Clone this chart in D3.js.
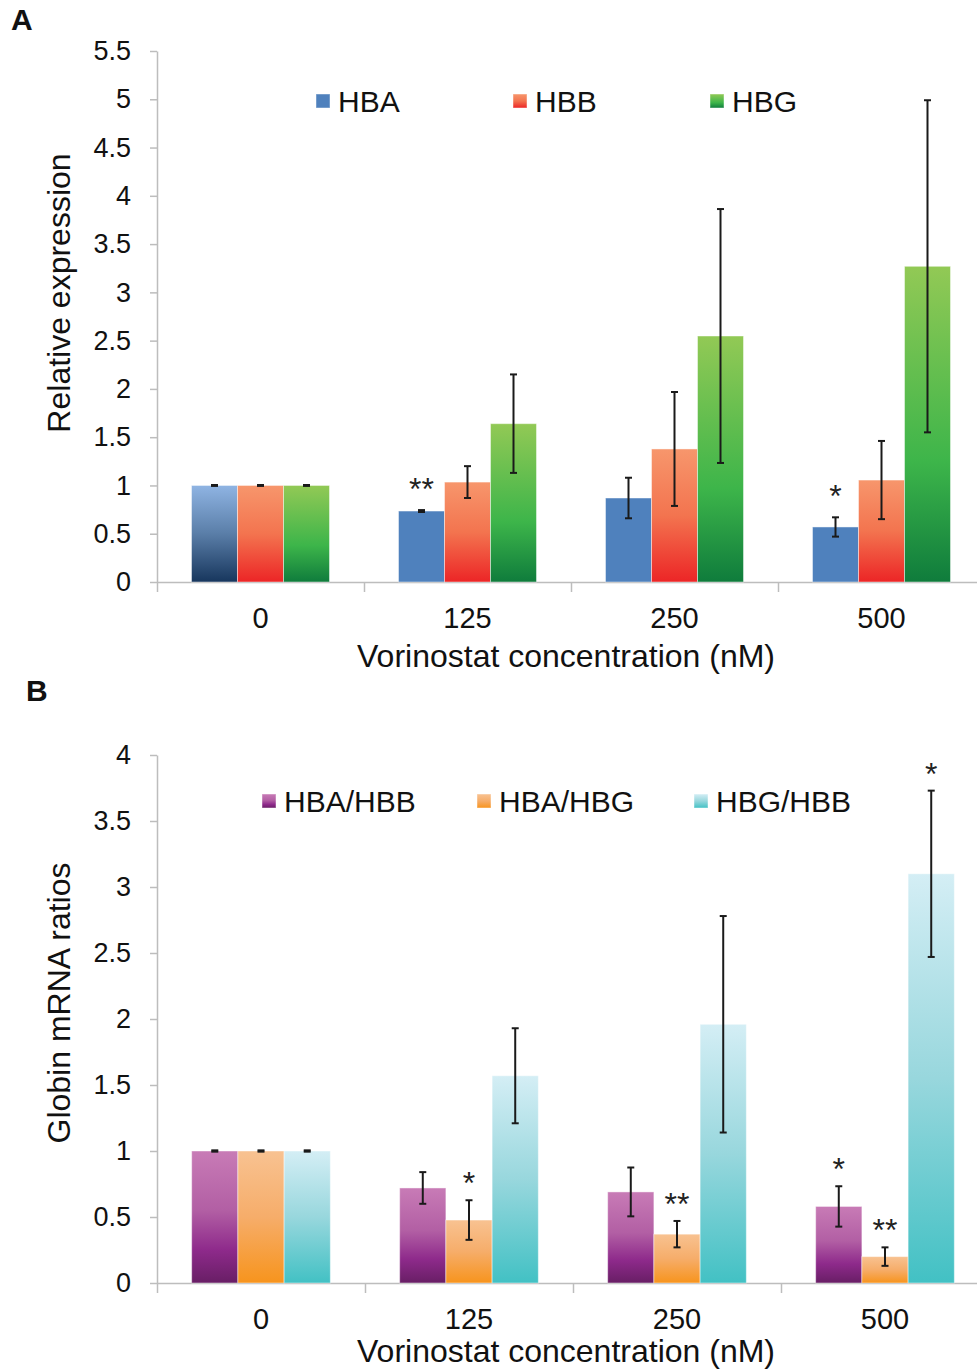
<!DOCTYPE html>
<html>
<head>
<meta charset="utf-8">
<script src="https://cdn.jsdelivr.net/npm/d3@7/dist/d3.min.js"></script>
<style>
  html, body { margin: 0; padding: 0; background: #fff; }
  svg { display: block; font-family: "Liberation Sans", Arial, sans-serif; }
</style>
</head>
<body>
<svg id="fig" width="977" height="1371"></svg>
<script>
// ---- shared categories ----
const categories = ["0", "125", "250", "500"];

// ---- Panel A: relative expression ----
const seriesA = ["HBA", "HBB", "HBG"];
const hbaValues = [1.0, 0.735, 0.87, 0.57];
const hbbValues = [1.0, 1.035, 1.378, 1.056];
const hbgValues = [1.0, 1.64, 2.548, 3.27];
const hbaErrors = [0.005, 0.01, 0.21, 0.1];
const hbbErrors = [0.005, 0.165, 0.59, 0.405];
const hbgErrors = [0.005, 0.51, 1.315, 1.72];
const hbaSig = ["", "**", "", "*"];
const hbbSig = ["", "", "", ""];
const hbgSig = ["", "", "", ""];
const ticksA = [0, 0.5, 1, 1.5, 2, 2.5, 3, 3.5, 4, 4.5, 5, 5.5];

// ---- Panel B: globin mRNA ratios ----
const seriesB = ["HBA/HBB", "HBA/HBG", "HBG/HBB"];
const hbaHbbValues = [1.0, 0.72, 0.69, 0.58];
const hbaHbgValues = [1.0, 0.477, 0.37, 0.2];
const hbgHbbValues = [1.0, 1.57, 1.96, 3.10];
const hbaHbbErrors = [0.005, 0.12, 0.185, 0.153];
const hbaHbgErrors = [0.005, 0.15, 0.1, 0.07];
const hbgHbbErrors = [0.005, 0.36, 0.82, 0.63];
const hbaHbbSig = ["", "", "", "*"];
const hbaHbgSig = ["", "*", "**", "**"];
const hbgHbbSig = ["", "", "", "*"];
const ticksB = [0, 0.5, 1, 1.5, 2, 2.5, 3, 3.5, 4];

const svg = d3.select("#fig");
const defs = svg.append("defs");

// vertical gradients, one per fill style
function gradient(id, stops) {
  const g = defs.append("linearGradient").attr("id", id)
    .attr("x1", 0).attr("y1", 0).attr("x2", 0).attr("y2", 1);
  stops.forEach(([o, c]) => g.append("stop").attr("offset", o).attr("stop-color", c));
  return `url(#${id})`;
}
const fills = {
  hbaBase: gradient("gHbaBase", [[0, "#8fb4e3"], [0.5, "#5a7ea8"], [1, "#17365d"]]),
  hba: "#4f81bd",
  hbb: gradient("gHbb", [[0, "#f7966c"], [0.5, "#f3744f"], [1, "#ec2526"]]),
  hbg: gradient("gHbg", [[0, "#92c955"], [0.62, "#3db54a"], [1, "#0f7c3c"]]),
  ab: gradient("gAB", [[0, "#c87bb6"], [0.45, "#b25fa4"], [0.75, "#8e2a8b"], [1, "#681e65"]]),
  ag: gradient("gAG", [[0, "#f8c291"], [0.5, "#f6ad6a"], [1, "#f7941d"]]),
  gb: gradient("gGB", [[0, "#d4eef5"], [0.5, "#98d7dd"], [1, "#42c1c4"]])
};

const axisColor = "#bdbdbd";

function drawPanel(cfg) {
  const g = svg.append("g");
  const y = d3.scaleLinear().domain([0, cfg.yMax]).range([cfg.y0, cfg.yTop]);
  const x = d3.scaleBand().domain(categories)
    .range([cfg.xLeft, cfg.xLeft + cfg.step * categories.length])
    .paddingInner(1 / 3).paddingOuter(1 / 6);
  const xs = d3.scaleBand().domain(cfg.series).range([0, x.bandwidth()]);
  const xb = d3.scaleLinear().domain([0, categories.length])
    .range([cfg.xLeft, cfg.xLeft + cfg.step * categories.length]);

  // y axis
  const ya = g.append("g").attr("transform", `translate(${cfg.xLeft},0)`)
    .call(d3.axisLeft(y).tickValues(cfg.ticks).tickSize(7).tickSizeOuter(0)
      .tickPadding(19).tickFormat(d => String(d)));
  ya.select(".domain").attr("stroke", axisColor).attr("stroke-width", 1.5);
  ya.selectAll(".tick line").attr("stroke", axisColor).attr("stroke-width", 1.5);
  ya.selectAll(".tick text").attr("font-size", 27).attr("fill", "#111")
    .attr("font-family", "Liberation Sans, Arial, sans-serif");

  // category boundary ticks and baseline
  const xa = g.append("g").attr("transform", `translate(0,${cfg.y0})`)
    .call(d3.axisBottom(xb).tickValues(d3.range(categories.length + 1))
      .tickSize(10).tickSizeOuter(0).tickFormat(""));
  xa.select(".domain").attr("stroke", axisColor).attr("stroke-width", 1.5);
  xa.selectAll(".tick line").attr("stroke", axisColor).attr("stroke-width", 1.5);

  // category labels
  const xl = g.append("g").attr("transform", `translate(0,${cfg.y0})`)
    .call(d3.axisBottom(x).tickSize(0).tickPadding(cfg.labelPad));
  xl.select(".domain").remove();
  xl.selectAll(".tick text").attr("font-size", 29).attr("fill", "#111")
    .attr("font-family", "Liberation Sans, Arial, sans-serif");

  // axis titles
  g.append("text").attr("x", cfg.xTitleX).attr("y", cfg.xTitleY)
    .attr("text-anchor", "middle").attr("font-size", 32).attr("fill", "#111")
    .text("Vorinostat concentration (nM)");
  g.append("text")
    .attr("transform", `translate(${cfg.yTitleX},${cfg.yTitleY}) rotate(-90)`)
    .attr("text-anchor", "middle").attr("font-size", 32).attr("fill", "#111")
    .text(cfg.yTitle);

  // bars
  const rows = [];
  cfg.series.forEach((s, si) => {
    categories.forEach((c, ci) => {
      rows.push({
        s, c, si, ci,
        v: cfg.values[si][ci], e: cfg.errors[si][ci], sig: cfg.sig[si][ci],
        fill: cfg.fill(si, ci)
      });
    });
  });
  const bw = xs.bandwidth();
  g.append("g").selectAll("rect").data(rows).join("rect")
    .attr("x", d => x(d.c) + xs(d.s))
    .attr("y", d => y(d.v))
    .attr("width", bw)
    .attr("height", d => y(0) - y(d.v))
    .attr("fill", d => d.fill)
    .attr("stroke", "rgba(255,255,255,0.45)")
    .attr("stroke-width", 1);

  // error bars
  const cap = 3.5;
  const eb = g.append("g").attr("stroke", "#1a1a1a").attr("stroke-width", 2);
  rows.forEach(d => {
    const cx = x(d.c) + xs(d.s) + bw / 2;
    const top = y(d.v + d.e), bot = y(d.v - d.e);
    eb.append("line").attr("x1", cx).attr("x2", cx).attr("y1", top).attr("y2", bot);
    eb.append("line").attr("x1", cx - cap).attr("x2", cx + cap).attr("y1", top).attr("y2", top);
    eb.append("line").attr("x1", cx - cap).attr("x2", cx + cap).attr("y1", bot).attr("y2", bot);
  });

  // significance marks
  g.append("g").selectAll("text").data(rows.filter(d => d.sig)).join("text")
    .attr("x", d => x(d.c) + xs(d.s) + bw / 2)
    .attr("y", d => y(d.v + d.e) - cfg.sigGap)
    .attr("text-anchor", "middle").attr("font-size", 32).attr("fill", "#222")
    .text(d => d.sig);

  // legend
  const lg = g.append("g");
  cfg.series.forEach((s, si) => {
    const lx = cfg.legendX[si];
    lg.append("rect").attr("x", lx).attr("y", cfg.legendY - 7)
      .attr("width", 14).attr("height", 14)
      .attr("fill", cfg.fill(si, 1))
      .attr("stroke", "rgba(255,255,255,0.45)").attr("stroke-width", 1);
    lg.append("text").attr("x", lx + 22).attr("y", cfg.legendY + 11)
      .attr("font-size", 30).attr("fill", "#111").text(s);
  });

  // panel letter
  svg.append("text").attr("x", cfg.letterX).attr("y", cfg.letterY)
    .attr("font-size", 30).attr("font-weight", "bold").attr("fill", "#111")
    .text(cfg.letter);
}

drawPanel({
  letter: "A", letterX: 11, letterY: 30,
  series: seriesA,
  values: [hbaValues, hbbValues, hbgValues],
  errors: [hbaErrors, hbbErrors, hbgErrors],
  sig: [hbaSig, hbbSig, hbgSig],
  fill: (si, ci) => si === 0 ? (ci === 0 ? fills.hbaBase : fills.hba) : (si === 1 ? fills.hbb : fills.hbg),
  ticks: ticksA, yMax: 5.5, y0: 582, yTop: 51,
  xLeft: 157, step: 207, labelPad: 25,
  xTitleX: 566, xTitleY: 667,
  yTitle: "Relative expression", yTitleX: 70, yTitleY: 293,
  legendX: [316, 513, 710], legendY: 101,
  sigGap: 10
});

drawPanel({
  letter: "B", letterX: 26, letterY: 701,
  series: seriesB,
  values: [hbaHbbValues, hbaHbgValues, hbgHbbValues],
  errors: [hbaHbbErrors, hbaHbgErrors, hbgHbbErrors],
  sig: [hbaHbbSig, hbaHbgSig, hbgHbbSig],
  fill: (si) => [fills.ab, fills.ag, fills.gb][si],
  ticks: ticksB, yMax: 4, y0: 1283, yTop: 755,
  xLeft: 157, step: 208, labelPad: 25,
  xTitleX: 566, xTitleY: 1362,
  yTitle: "Globin mRNA ratios", yTitleX: 70, yTitleY: 1003,
  legendX: [262, 477, 694], legendY: 801,
  sigGap: 6
});
</script>
</body>
</html>
